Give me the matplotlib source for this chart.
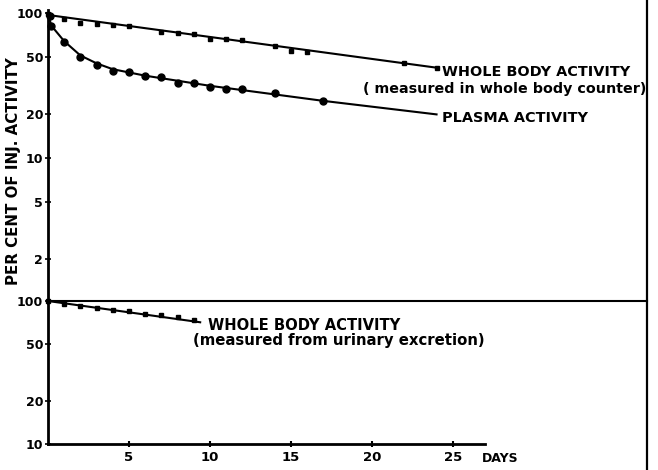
import matplotlib
matplotlib.use("Agg")
import matplotlib.pyplot as plt
from matplotlib.lines import Line2D
from matplotlib.ticker import NullLocator

# Whole body activity, measured in whole body counter (upper panel)
wb_days = [0, 1, 2, 3, 4, 5, 7, 8, 9, 10, 11, 12, 14, 15, 16, 22, 24]
wb_pct = [98, 91, 85, 84, 83, 81, 74, 73, 72, 66, 66, 65, 59, 55, 54, 45, 42]
wb_fit_days = [0, 24]
wb_fit_pct = [97, 42]

# Plasma activity (upper panel)
pl_days = [0.1, 0.2, 1, 2, 3, 4, 5, 6, 7, 8, 9, 10, 11, 12, 14, 17]
pl_pct = [95, 82, 63, 50, 44, 40, 39, 37, 36, 33, 33, 31, 30, 30, 28, 24.7]
pl_fit_days = [0, 0.2, 1, 2, 3, 4, 6, 10, 17, 24]
pl_fit_pct = [100, 82, 64, 51, 45, 41, 37, 31.5, 24.8, 20]

# Whole body activity measured from urinary excretion (lower panel)
ur_days = [0, 1, 2, 3, 4, 5, 6, 7, 8, 9]
ur_pct = [100, 96, 92, 89, 87, 85, 81, 80, 77, 74]
ur_fit_days = [0, 9.4]
ur_fit_pct = [100, 71]

top_ticks = [2, 5, 10, 20, 50, 100]
bot_ticks = [10, 20, 50, 100]
x_ticks = [5, 10, 15, 20, 25]

W, H = 658, 470
fig = plt.figure(figsize=(W / 100, H / 100), dpi=100)

x0 = 48 / W
xw = (647 - 48) / W
ax_top = fig.add_axes([x0, (H - 303) / H, xw, 293 / H])
ax_bot = fig.add_axes([x0, (H - 444) / H, xw, 143 / H])

for ax in (ax_top, ax_bot):
    ax.set_yscale("log")
    ax.set_xlim(0, 37)
    ax.yaxis.set_minor_locator(NullLocator())
    ax.spines["right"].set_visible(False)
    ax.spines["left"].set_linewidth(2.0)
    ax.tick_params(axis="y", direction="inout", length=5, width=1.2, pad=1)

# upper panel
ax_top.set_ylim(1, 105)
ax_top.spines["top"].set_visible(False)
ax_top.spines["bottom"].set_visible(False)
ax_top.set_xticks([])
ax_top.set_yticks(top_ticks)
ax_top.set_yticklabels([str(t) for t in top_ticks], fontsize=9, fontweight="bold")

ax_top.plot(wb_fit_days, wb_fit_pct, color="black", lw=1.5, clip_on=False)
ax_top.plot(wb_days, wb_pct, "s", color="black", ms=2.4, clip_on=False)
ax_top.plot(pl_fit_days, pl_fit_pct, color="black", lw=1.5, clip_on=False)
ax_top.plot(pl_days, pl_pct, "o", color="black", ms=5, clip_on=False)

# lower panel
ax_bot.set_ylim(10, 100)
ax_bot.spines["top"].set_linewidth(1.5)
ax_bot.spines["bottom"].set_linewidth(2.0)
ax_bot.spines["bottom"].set_bounds(0, 27)
ax_bot.set_yticks(bot_ticks)
ax_bot.set_yticklabels([str(t) for t in bot_ticks], fontsize=9, fontweight="bold")
ax_bot.set_xticks(x_ticks)
ax_bot.set_xticklabels([str(t) for t in x_ticks], fontsize=9.5, fontweight="bold")
ax_bot.tick_params(axis="x", direction="inout", length=4, width=1.5, pad=3)

ax_bot.plot(ur_fit_days, ur_fit_pct, color="black", lw=1.5, clip_on=False)
ax_bot.plot(ur_days, ur_pct, "s", color="black", ms=2.4, clip_on=False)

# right border line
fig.add_artist(Line2D([647 / W, 647 / W], [0, 1], transform=fig.transFigure,
                      color="black", lw=1.6))


def fy(py):
    return 1 - py / H


fig.text(482 / W, fy(458), "DAYS", fontsize=9, fontweight="bold", va="center", ha="left")
fig.text(442 / W, fy(72), "WHOLE BODY ACTIVITY", fontsize=10.4, fontweight="bold", va="center")
fig.text(646 / W, fy(89), "( measured in whole body counter)", fontsize=10.3,
         fontweight="bold", va="center", ha="right")
fig.text(442 / W, fy(118), "PLASMA ACTIVITY", fontsize=10.4, fontweight="bold", va="center")
fig.text(208 / W, fy(325), "WHOLE BODY ACTIVITY", fontsize=10.6, fontweight="bold", va="center")
fig.text(193 / W, fy(341), "(measured from urinary excretion)", fontsize=10.7,
         fontweight="bold", va="center")
fig.text(14 / W, fy(171), "PER CENT OF INJ. ACTIVITY", fontsize=10.8, fontweight="bold",
         rotation=90, va="center", ha="center")

fig.savefig("out.png", dpi=100)
